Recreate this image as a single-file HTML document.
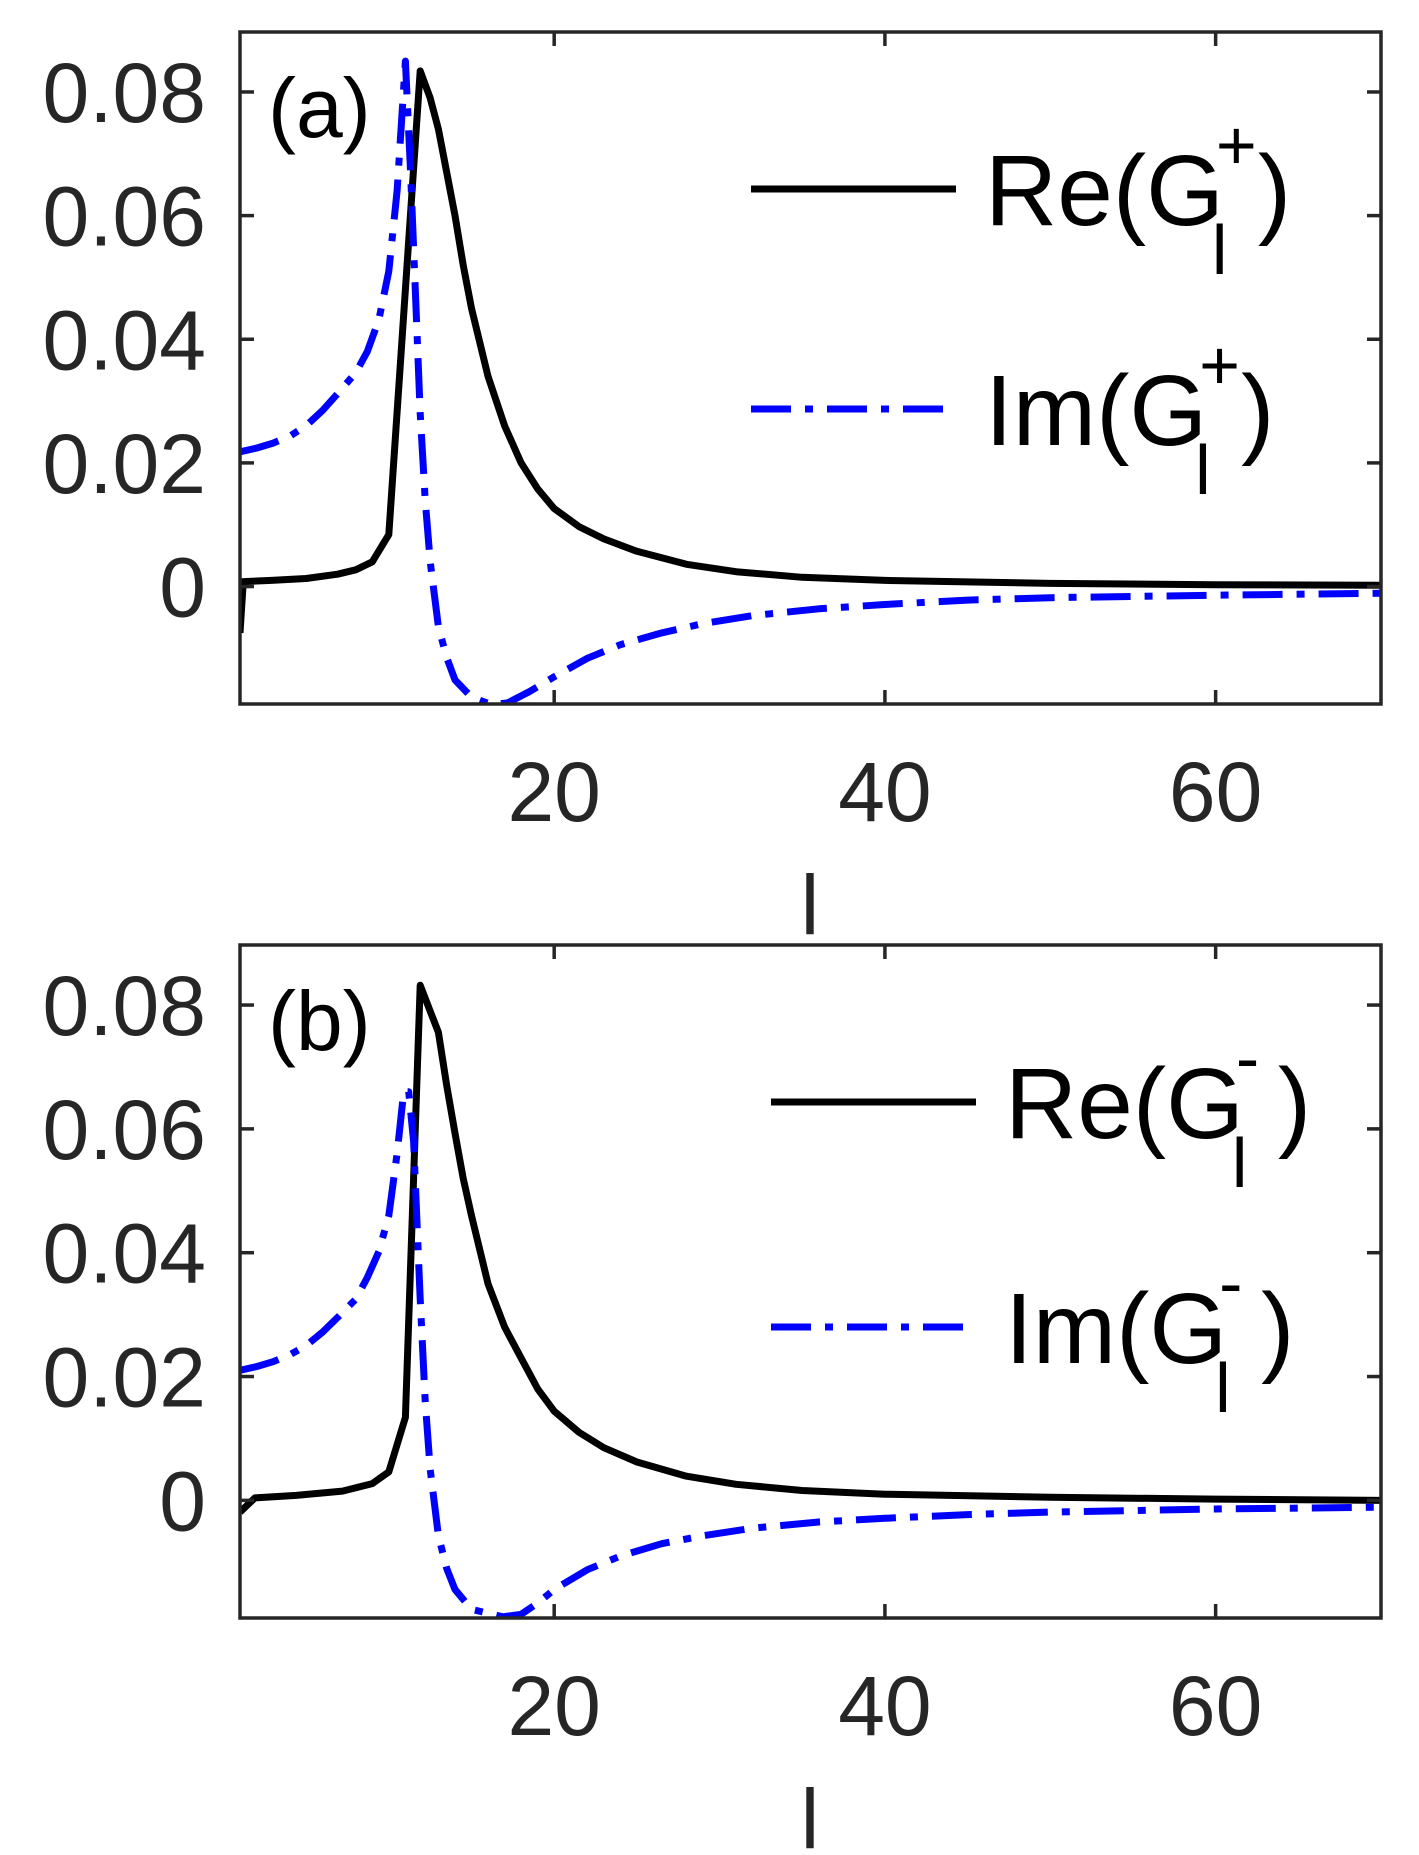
<!DOCTYPE html>
<html><head><meta charset="utf-8"><style>
html,body{margin:0;padding:0;background:#fff;}
svg{display:block;font-family:"Liberation Sans",Arial,sans-serif;}
</style></head><body>
<svg id="fig" width="1419" height="1855" viewBox="0 0 1419 1855" xmlns="http://www.w3.org/2000/svg"></svg>
<script>
const xTicks = [20, 40, 60];
const yTicks = [0, 0.02, 0.04, 0.06, 0.08];
const yTickLabels = ["0", "0.02", "0.04", "0.06", "0.08"];
const reA_x = [1,1.2,2.9,5,6.9,8,9,10,11.9,12.5,13,13.5,14,14.5,15,16,17,18,19,20,21.5,23,25,28,31,35,40,50,60,70];
const reA_y = [-0.0075,0.0008,0.001,0.0013,0.002,0.0027,0.004,0.0084,0.0834,0.079,0.074,0.067,0.06,0.052,0.045,0.034,0.026,0.020,0.0158,0.0126,0.0097,0.0077,0.0057,0.0036,0.0024,0.0015,0.001,0.0005,0.0003,0.0002];
const imA_x = [1,2,3,4,5,6,7,8,8.7,9.4,10,10.5,11,11.3,11.6,11.9,12.2,12.5,13,13.5,14,15,16.2,17.2,18.5,20,22,24,26.5,29,32,36,40,45,50,60,70];
const imA_y = [0.0218,0.0224,0.0232,0.0243,0.026,0.0285,0.0315,0.0346,0.038,0.0432,0.051,0.064,0.085,0.068,0.048,0.028,0.014,0.004,-0.0065,-0.0115,-0.0151,-0.0179,-0.0191,-0.0188,-0.017,-0.0146,-0.0116,-0.0094,-0.0075,-0.006,-0.0047,-0.0036,-0.0029,-0.0022,-0.0018,-0.0014,-0.0011];
const reB_x = [1,1.9,4.4,7.2,9,10,11,11.9,12.5,13,13.5,14,14.5,15,16,17,18,19,20,21.5,23,25,28,31,35,40,50,60,70];
const reB_y = [-0.0019,0.0004,0.0008,0.0015,0.0027,0.0046,0.0134,0.0832,0.079,0.0756,0.067,0.0593,0.052,0.046,0.035,0.028,0.023,0.018,0.0144,0.011,0.0085,0.0062,0.0039,0.0026,0.0016,0.001,0.0005,0.0002,0];
const imB_x = [1,2,3,4,5,6,7,8,8.7,9.4,10,10.5,10.9,11.2,11.5,11.9,12.2,12.5,13,13.5,14,15,16.9,18,19,20,22,24,26.5,29,32,36,40,45,50,60,70];
const imB_y = [0.021,0.0216,0.0224,0.0235,0.025,0.0272,0.0298,0.0325,0.036,0.0402,0.046,0.056,0.066,0.066,0.058,0.0325,0.016,0.005,-0.0057,-0.011,-0.0144,-0.0176,-0.0188,-0.0184,-0.0166,-0.0144,-0.0112,-0.009,-0.007,-0.0057,-0.0045,-0.0035,-0.0029,-0.0023,-0.0019,-0.0014,-0.0011];

const NS = "http://www.w3.org/2000/svg";
const svg = document.getElementById('fig');
function mk(tag, attrs, parent){ const e=document.createElementNS(NS,tag); for(const k in attrs) e.setAttribute(k,attrs[k]); (parent||svg).appendChild(e); return e; }

const X0=240, X1=1381, XMIN=1, XMAX=70;
const YMIN=-0.019, YMAX=0.0897;
const DASH="40 14 8 14";

function panel(top, bottom, id, reX, reY, imX, imY, letter, sign, legX, legY1, legY2){
  const g = mk('g',{});
  
  
  const sx = v => X0 + (v-XMIN)/(XMAX-XMIN)*(X1-X0);
  const sy = v => bottom - (v-YMIN)/(YMAX-YMIN)*(bottom-top);
  const cp = mk('clipPath',{id:'clip'+id},g);
  mk('rect',{x:X0,y:top,width:X1-X0,height:bottom-top},cp);
  function line(xs, ys, color, dash, name){
    let d=''; xs.forEach((x,i)=>{ d += (i?'L':'M')+sx(x).toFixed(1)+','+sy(ys[i]).toFixed(1); });
    const p = mk('path',{d:d,fill:'none',stroke:color,'stroke-width':7,'stroke-linejoin':'round','clip-path':'url(#clip'+id+')'},g);
    if(dash) p.setAttribute('stroke-dasharray',dash);
    
    
  }
  line(reX, reY, '#000', null, 're-line-'+id);
  line(imX, imY, '#0000ff', DASH, 'im-line-'+id);
  const box = mk('rect',{x:X0,y:top,width:X1-X0,height:bottom-top,fill:'none',stroke:'#262626','stroke-width':3.5},g);
  
  
  xTicks.forEach(t=>{
    const x=sx(t);
    mk('line',{x1:x,y1:bottom,x2:x,y2:bottom-14,stroke:'#262626','stroke-width':3.5},g);
    mk('line',{x1:x,y1:top,x2:x,y2:top+14,stroke:'#262626','stroke-width':3.5},g);
    const tx = mk('text',{x:x,y:bottom+117,'font-size':84,fill:'#262626','text-anchor':'middle'},g);
    tx.textContent = t;
    
    
  });
  yTicks.forEach((t,i)=>{
    const y=sy(t);
    mk('line',{x1:X0,y1:y,x2:X0+14,y2:y,stroke:'#262626','stroke-width':3.5},g);
    mk('line',{x1:X1,y1:y,x2:X1-14,y2:y,stroke:'#262626','stroke-width':3.5},g);
    const ty = mk('text',{x:206,y:y+30,'font-size':84,fill:'#262626','text-anchor':'end'},g);
    ty.textContent = yTickLabels[i];
    
    
  });
  const xl = mk('text',{x:810,y:bottom+230,'font-size':84,fill:'#262626','text-anchor':'middle'},g);
  xl.textContent='l';
  
  
  const pl = mk('text',{x:268,y:top+105,'font-size':84,fill:'#000'},g);
  pl.textContent='('+letter+')';
  
  
  function leg(y, name, prefix, color, dash){
    const lg = mk('g',{},g);
    
    
    const ln = mk('line',{x1:legX,y1:y,x2:legX+205,y2:y,stroke:color,'stroke-width':7},lg);
    if(dash) ln.setAttribute('stroke-dasharray',DASH);
    const t = mk('text',{x:legX+234,y:y+36,'font-size':100,fill:'#000'},lg);
    t.textContent = prefix+'(G';
    const tw = t.getComputedTextLength();
    const bx = legX+234+tw;
    const sup = mk('text',{x:bx-8,y:y-20,'font-size':70,fill:'#000'},lg);
    sup.textContent = sign;
    const sub = mk('text',{x:bx-12,y:y+85,'font-size':70,fill:'#000'},lg);
    sub.textContent = 'l';
    const cl = mk('text',{x:bx+34,y:y+36,'font-size':100,fill:'#000'},lg);
    cl.textContent = ')';
  }
  leg(legY1,'legend-entry-re','Re','#000',false);
  leg(legY2,'legend-entry-im','Im','#0000ff',true);
}
panel(32, 704, 'a', reA_x, reA_y, imA_x, imA_y, 'a', '+', 751, 189, 409);
panel(945, 1618, 'b', reB_x, reB_y, imB_x, imB_y, 'b', '-', 771, 1102, 1327);
</script>
</body></html>
